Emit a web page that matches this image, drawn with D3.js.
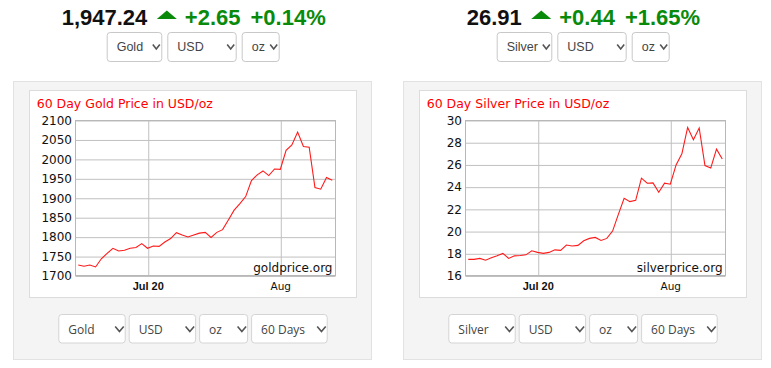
<!DOCTYPE html>
<html><head><meta charset="utf-8">
<script src="https://cdn.jsdelivr.net/npm/d3@7"></script>
<style>html,body{margin:0;padding:0;background:#fff;}svg{display:block;}</style>
</head><body>
<svg id="c" width="771" height="368"></svg>
<script>
// ---- data ----
const goldValues = [1727,1724,1727,1722,1743,1757,1770,1763,1765,1770,1772,1782,1770,1776,1775,1786,1795,1810,1804,1799,1804,1809,1811,1798,1811,1818,1843,1868,1885,1903,1944,1959,1969,1957,1974,1973,2022,2036,2069,2032,2030,1926,1922,1952,1945];
const silverValues = [17.45,17.45,17.54,17.38,17.6,17.77,17.99,17.54,17.77,17.8,17.86,18.22,18.08,17.99,18.08,18.31,18.26,18.74,18.65,18.71,19.13,19.34,19.43,19.16,19.34,20.0,21.5,22.96,22.65,22.77,24.76,24.31,24.34,23.5,24.31,24.22,25.96,26.96,29.33,28.22,29.28,25.9,25.67,27.38,26.48];
const goldTicks = [1700,1750,1800,1850,1900,1950,2000,2050,2100];
const silverTicks = [16,18,20,22,24,26,28,30];
const xTickDates = ["2020-07-20","2020-08-01"];
const xTickLabels = ["Jul 20","Aug"];
const headerGold = {price:"1,947.24", change:"+2.65", pct:"+0.14%"};
const headerSilver = {price:"26.91", change:"+0.44", pct:"+1.65%"};
const selTopGold = ["Gold","USD","oz"];
const selTopSilver = ["Silver","USD","oz"];
const selBotGold = ["Gold","USD","oz","60 Days"];
const selBotSilver = ["Silver","USD","oz","60 Days"];
const firstPoint = new Date(2020,6,13,17), lastPoint = new Date(2020,7,5,17);
const domainStart = new Date(2020,6,13,11), domainEnd = new Date(2020,7,6,0);

const svg = d3.select("#c");
const parse = d3.timeParse("%Y-%m-%d");

function chevron(g, x, y, w, h, sw){
  g.append("path").attr("d",`M${x},${y} L${x+w/2},${y+h} L${x+w},${y}`)
   .attr("fill","none").attr("stroke","#555").attr("stroke-width",sw);
}

function panel(ox, values, ticks, header, selTop, selBot, metal, site){
  const g = svg.append("g").attr("transform",`translate(${ox},0)`);
  // header
  const hx = metal==="Gold" ? 61.7 : 76.7;
  const hg = g.append("g").attr("font-family","'Liberation Sans',Arial,sans-serif").attr("font-weight","bold").attr("font-size",22);
  const t1 = hg.append("text").attr("x",hx).attr("y",25).attr("fill","#111").text(header.price);
  const w1 = t1.node().getComputedTextLength();
  const tx = hx + w1 + 9.5;
  hg.append("path").attr("d",`M${tx},19 L${tx+20},19 L${tx+10},10.5 Z`).attr("fill","#0a8a0a");
  const t2 = hg.append("text").attr("x",tx+28).attr("y",25).attr("fill","#0a8a0a").text(header.change);
  const w2 = t2.node().getComputedTextLength();
  hg.append("text").attr("x",tx+28+w2+10).attr("y",25).attr("fill","#0a8a0a").text(header.pct);

  // top selects
  const topW = metal==="Gold" ? [55.6,69.4,38] : [55.6,69.4,38];
  let sx = metal==="Gold" ? 106.7 : 106.7;
  selTop.forEach((s,i)=>{
    const w = topW[i];
    g.append("rect").attr("x",sx+0.5).attr("y",32.5).attr("width",w-1).attr("height",29).attr("rx",3)
      .attr("fill","#fff").attr("stroke","#c8c8c8");
    g.append("text").attr("x",sx+10).attr("y",51).attr("font-family","'Liberation Sans',Arial,sans-serif")
      .attr("font-size",12.5).attr("fill","#444").text(s);
    chevron(g, sx+w-9.5, 44.5, 7, 4.5, 1.6);
    sx += w + 5;
  });

  // outer panel
  g.append("rect").attr("x",13.5).attr("y",81.5).attr("width",358).attr("height",278)
    .attr("fill","#f4f4f4").attr("stroke","#e2e2e2");
  // chart box
  g.append("rect").attr("x",29.5).attr("y",90.5).attr("width",327).attr("height",207)
    .attr("fill","#fff").attr("stroke","#dcdcdc");

  g.append("text").attr("x",36.7).attr("y",107.5).attr("font-family","'DejaVu Sans',Verdana,sans-serif")
    .attr("font-size",12.5).attr("fill","#ff0000").text(`60 Day ${metal} Price in USD/oz`);

  const L=75.5, R=335.5, T=120, B=275.5;
  const x = d3.scaleTime().domain([domainStart,domainEnd]).range([L,R]);
  const y = d3.scaleLinear().domain([ticks[0],ticks[ticks.length-1]]).range([B,T]);

  // horizontal grid
  const yAxis = d3.axisLeft(y).tickValues(ticks).tickSize(-(R-L)).tickPadding(3).tickFormat(d3.format("d"));
  const ya = g.append("g").attr("transform",`translate(${L},0)`).call(yAxis);
  ya.select(".domain").remove();
  ya.selectAll("line").attr("stroke","#c0c0c0").attr("transform","translate(0,0.5)");
  ya.selectAll("text").attr("font-family","'DejaVu Sans',Verdana,sans-serif").attr("font-size",12).attr("fill","#111").attr("dy","0.36em").attr("x",-3.5);

  const xd = xTickDates.map(parse);
  const xAxis = d3.axisBottom(x).tickValues(xd).tickSize(-(B-T)).tickPadding(0).tickFormat((d,i)=>xTickLabels[i]);
  const xa = g.append("g").attr("transform",`translate(0,${B})`).call(xAxis);
  xa.select(".domain").remove();
  xa.selectAll("line").attr("stroke","#c0c0c0").attr("transform","translate(0.5,0)");
  xa.selectAll("text").attr("y",14.3).attr("dy",0).attr("fill","#111")
    .attr("font-family",(d,i)=> i===0 ? "'Liberation Sans',Arial,sans-serif" : "'DejaVu Sans',Verdana,sans-serif")
    .attr("font-weight",(d,i)=> i===0 ? "bold":"normal").attr("font-size",(d,i)=> i===0 ? 11 : 10.5);

  // frame
  g.append("rect").attr("x",L).attr("y",T+0.5).attr("width",R-L).attr("height",B-T-0.5)
    .attr("fill","none").attr("stroke","#b8b8b8");

  g.append("text").attr("x",332.5).attr("y",272).attr("text-anchor","end")
    .attr("font-family","'DejaVu Sans',Verdana,sans-serif").attr("font-size",12).attr("fill","#111").text(site);

  const n = values.length;
  const dates = values.map((v,i)=> new Date(+firstPoint + (lastPoint-firstPoint)*i/(n-1)));
  const line = d3.line().x((d,i)=>x(dates[i])).y(d=>y(d));
  g.append("path").datum(values).attr("d",line).attr("fill","none").attr("stroke","#ff1a1a").attr("stroke-width",1.1);

  // bottom selects
  const botW = [67.4,67.4,49,76.6];
  let bx = 58.3;
  selBot.forEach((s,i)=>{
    const w = botW[i];
    g.append("rect").attr("x",bx+0.5).attr("y",314.5).attr("width",w-1).attr("height",28.5).attr("rx",3)
      .attr("fill","#fff").attr("stroke","#d4d4d4");
    g.append("text").attr("x",bx+10).attr("y",333.5).attr("font-family","'Open Sans',sans-serif")
      .attr("font-size",12).attr("fill","#444").text(s);
    chevron(g, bx+w-10.5, 326.5, 8.5, 5, 1.6);
    bx += w + 3;
  });
}

panel(0, goldValues, goldTicks, headerGold, selTopGold, selBotGold, "Gold", "goldprice.org");
panel(390, silverValues, silverTicks, headerSilver, selTopSilver, selBotSilver, "Silver", "silverprice.org");
</script>
</body></html>
